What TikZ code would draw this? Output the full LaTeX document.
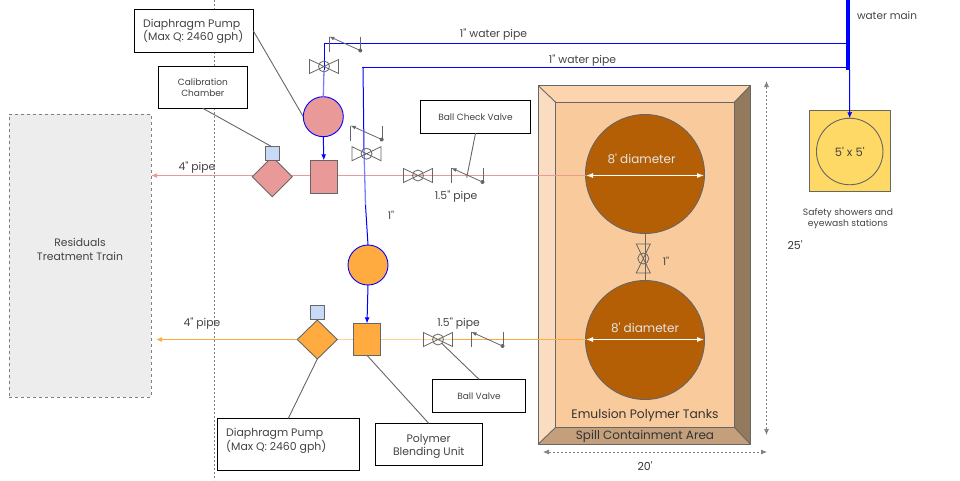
\documentclass[tikz,border=0pt]{standalone}
\usepackage{fontspec}
\usepackage{xcolor}
\usetikzlibrary{shapes.geometric, arrows.meta, positioning}
\newfontfamily\labelfont{Poppins}
\definecolor{pipeblue}{RGB}{0, 0, 255}
\definecolor{lightblue}{RGB}{120, 130, 255}
\definecolor{pumppink}{RGB}{234, 153, 153}
\definecolor{pumporange}{RGB}{255, 171, 64}
\definecolor{paleorange}{RGB}{255, 208, 143}
\definecolor{chamberblue}{RGB}{201, 218, 248}
\definecolor{tankbrown}{RGB}{180, 95, 6}
\definecolor{basinfloor}{RGB}{249, 203, 156}
\definecolor{basintop}{RGB}{252, 213, 174}
\definecolor{basinleft}{RGB}{250, 220, 192}
\definecolor{basinright}{RGB}{148, 122, 92}
\definecolor{basinbottom}{RGB}{196, 159, 124}
\definecolor{showeryellow}{RGB}{255, 217, 102}
\definecolor{linegray}{RGB}{102, 102, 102}
\definecolor{textgray}{RGB}{67, 67, 67}
\tikzset{
    txt/.style={inner sep=0pt, text=textgray, align=center, font=\labelfont\fontsize{#1}{13.5}\selectfont},
    labelbox/.style={draw=black, fill=white, line width=0.9pt, inner sep=0pt, outer sep=0pt, text=textgray, align=center},
    equip/.style={draw=linegray, line width=0.9pt, inner sep=0pt, outer sep=0pt},
    leader/.style={draw=linegray, line width=0.9pt},
    dimline/.style={draw=gray, line width=0.7pt, dash pattern=on 2pt off 2pt, {Latex[length=6pt,width=5pt]}-{Latex[length=6pt,width=5pt]}},
    ballvalve/.pic={
        \draw[linegray, line width=0.8pt] (-14.5,-7) -- (14.5,7) -- (14.5,-7) -- (-14.5,7) -- cycle;
        \draw[linegray, line width=0.8pt] (0,0) circle (5.5);
    },
    checkvalve/.pic={
        \draw[linegray, line width=0.8pt] (0,15) -- (0,0);
        \draw[linegray, line width=0.8pt, {Latex[length=5pt,width=4pt]}-] (0,0) -- (31,14);
        \draw[linegray, line width=0.8pt] (31.5,0) -- (31.5,14);
        \fill[linegray] (31,14) circle (2);
    },
}
\begin{document}
\begin{tikzpicture}[x=1pt, y=-1pt]
    \useasboundingbox (0,0) rectangle (960,480);
    % Residuals area and boundary
    \node[draw=gray, fill=black!7, dashed, line width=0.7pt, inner sep=0pt, minimum width=142pt, minimum height=283pt] (residuals) at (80,255.5) {};
    \node[txt=10.8] (residualstxt) at (80,249.5) {Residuals\\Treatment Train};
    \coordinate (boundtop) at (214.5,0);
    \coordinate (boundbot) at (214.5,480);
    \draw[gray, line width=0.7pt, dash pattern=on 2pt off 2pt] (boundtop) -- (boundbot);

    % Containment basin
    \fill[basintop] (538.3,85.7) -- (750.3,85.7) -- (734.3,102.3) -- (555.7,102.3) -- cycle;
    \fill[basinleft] (538.3,85.7) -- (555.7,102.3) -- (555.7,427.3) -- (538.3,444) -- cycle;
    \fill[basinright] (750.3,85.7) -- (734.3,102.3) -- (734.3,427.3) -- (750.3,444) -- cycle;
    \fill[basinbottom] (538.3,444) -- (555.7,427.3) -- (734.3,427.3) -- (750.3,444) -- cycle;
    \draw[linegray, line width=0.9pt, fill=basinfloor] (555.7,102.3) rectangle (734.3,427.3);
    \draw[linegray, line width=0.9pt] (538.3,85.7) rectangle (750.3,444);
    \draw[linegray, line width=0.9pt] (538.3,85.7) -- (555.7,102.3);
    \draw[linegray, line width=0.9pt] (750.3,85.7) -- (734.3,102.3);
    \draw[linegray, line width=0.9pt] (538.3,444) -- (555.7,427.3);
    \draw[linegray, line width=0.9pt] (750.3,444) -- (734.3,427.3);

    % Tanks
    \node[equip, circle, fill=tankbrown, minimum size=119pt] (tanka) at (645,174) {};
    \node[equip, circle, fill=tankbrown, minimum size=119pt] (tankb) at (645,340) {};
    \draw[linegray, line width=0.9pt] (tanka.south) -- (tankb.north);

    % Process pipes
    \coordinate (pinkstart) at (586,175.5);
    \coordinate (pinkend) at (151,175.5);
    \coordinate (orangestart) at (586,339.5);
    \coordinate (orangemid) at (452,339.5);
    \coordinate (orangepale) at (320,339.5);
    \coordinate (orangeend) at (156,339.5);
    \draw[pumppink, line width=1.1pt, -{Latex[length=6pt,width=5pt]}] (pinkstart) -- (pinkend);
    \draw[pumporange, line width=1pt] (orangestart) -- (orangemid);
    \draw[paleorange, line width=1.4pt] (orangemid) -- (orangepale);
    \draw[pumporange, line width=1pt, -{Latex[length=6pt,width=5pt]}] (orangepale) -- (orangeend);

    % Equipment, pink train
    \node[equip, circle, draw=pipeblue, fill=pumppink, minimum size=40pt] (pinkpump) at (323.3,116.7) {};
    \node[equip, rectangle, fill=pumppink, minimum width=27pt, minimum height=33pt] (pinkunit) at (323.8,176.8) {};
    \node[equip, diamond, fill=pumppink, minimum width=40pt, minimum height=40pt] (pinkdiamond) at (272.3,176.7) {};
    \node[equip, rectangle, fill=chamberblue, minimum size=14pt] (pinkchamber) at (272,153.8) {};

    % Equipment, orange train
    \node[equip, circle, draw=pipeblue, fill=pumporange, minimum size=40pt] (orangepump) at (368,265) {};
    \node[equip, rectangle, fill=pumporange, minimum width=27pt, minimum height=32pt] (orangeunit) at (367,339.3) {};
    \node[equip, diamond, fill=pumporange, minimum width=40pt, minimum height=39pt] (orangediamond) at (317.3,339.5) {};
    \node[equip, rectangle, fill=chamberblue, minimum size=14pt] (orangechamber) at (317.5,312.5) {};

    % Shower
    \node[equip, rectangle, fill=showeryellow, minimum size=81pt] (showerbox) at (849.8,150.8) {};
    \node[equip, circle, minimum size=66.5pt, txt=11.5] (shower) at (849.7,151.5) {5' x 5'};

    % Water lines
    \coordinate (maintop) at (847.5,0);
    \coordinate (mainbot) at (847.5,70);
    \coordinate (upperjoin) at (847.5,43.5);
    \coordinate (lowerjoin) at (847.5,67);
    \coordinate (uppercorner) at (324,43.5);
    \coordinate (upperbend) at (324,70);
    \coordinate (lowercorner) at (362,67);
    \coordinate (lowerdrop) at (363,67);
    \coordinate (lowerpalea) at (364,150);
    \coordinate (lowerpaleb) at (365.5,205);
    \coordinate (showerdrop) at (849.5,70);
    \draw[pipeblue, line width=1pt] (upperjoin) -- (uppercorner) -- (upperbend);
    \draw[lightblue, line width=1.3pt] (upperbend) -- (pinkpump.north);
    \draw[pipeblue, line width=1pt] (lowerjoin) -- (lowercorner);
    \draw[pipeblue, line width=1pt] (lowerdrop) -- (lowerpalea);
    \draw[lightblue, line width=1.3pt] (lowerpalea) -- (lowerpaleb);
    \draw[pipeblue, line width=1pt] (lowerpaleb) -- (orangepump.north);
    \draw[pipeblue, line width=4pt] (maintop) -- (mainbot);
    \draw[pipeblue, line width=1pt, -{Latex[length=6pt,width=5pt]}] (showerdrop) -- (shower.north);
    \draw[pipeblue, line width=1pt, -{Latex[length=6pt,width=5pt]}] (pinkpump.south) -- (pinkunit.north);
    \draw[pipeblue, line width=1pt, -{Latex[length=6pt,width=5pt]}] (orangepump.south) -- (orangeunit.north);

    % Valves
    \pic at (324,66.5) {ballvalve};
    \pic at (366.5,153.7) {ballvalve};
    \pic at (418,175.5) {ballvalve};
    \pic at (438,339.5) {ballvalve};
    \pic[rotate=90] at (643.3,258.5) {ballvalve};
    \pic at (329.3,36.5) {checkvalve};
    \pic at (350.7,125.5) {checkvalve};
    \pic at (451.5,168) {checkvalve};
    \pic at (471.5,332) {checkvalve};

    % White width arrows
    \draw[white, line width=1pt, {Latex[length=7pt,width=5pt]}-{Latex[length=7pt,width=5pt]}] (pinkstart) -- ++(118,0);
    \draw[white, line width=1pt, {Latex[length=7pt,width=5pt]}-{Latex[length=7pt,width=5pt]}] (orangestart) -- ++(118,0);

    % Labels
    \node[labelbox, minimum width=119pt, minimum height=43pt] (pumpnote) at (193.8,30.8) {};
    \node[txt=10.9, anchor=west, align=left] (pumpnotetxt) at (143,31.5) {Diaphragm Pump\\(Max Q: 2460 gph)};
    \node[labelbox, minimum width=89pt, minimum height=42pt, font=\labelfont\fontsize{9}{11}\selectfont] (chambernote) at (202.8,87.3) {Calibration\\Chamber};
    \node[labelbox, minimum width=110pt, minimum height=33pt, font=\labelfont\fontsize{9}{11}\selectfont] (checknote) at (475.5,116.8) {Ball Check Valve};
    \node[labelbox, minimum width=93pt, minimum height=33pt, font=\labelfont\fontsize{9}{11}\selectfont] (ballnote) at (479,395.8) {Ball Valve};
    \node[labelbox, minimum width=142pt, minimum height=52pt] (pumpnoteb) at (288.3,444.3) {};
    \node[txt=10.9, anchor=west, align=left] (pumpnotebtxt) at (226,440.8) {Diaphragm Pump\\(Max Q: 2460 gph)};
    \node[labelbox, minimum width=107pt, minimum height=42pt] (blendnote) at (428.7,444.3) {};
    \node[txt=10.9] (blendnotetxt) at (428.7,446.5) {Polymer\\Blending Unit};

    % Leaders
    \coordinate (checktip) at (466.7,177.7);
    \coordinate (balltip) at (441.7,343.3);
    \draw[leader] (pumpnote.east) -- (pinkpump.west);
    \draw[leader] (chambernote.south) -- (pinkchamber.north);
    \draw[leader] (checknote.south) -- (checktip);
    \draw[leader] (ballnote.north) -- (balltip);
    \draw[leader] (orangediamond.south) -- (pumpnoteb.north);
    \draw[leader] (orangeunit.south) -- (blendnote.north);

    % Dimensions
    \coordinate (dimtop) at (766.5,81);
    \coordinate (dimbot) at (766.5,435);
    \coordinate (dimleft) at (543,452);
    \coordinate (dimright) at (767,452);
    \draw[dimline] (dimtop) -- (dimbot);
    \draw[dimline] (dimleft) -- (dimright);

    % Text
    \node[txt=10.8] (waterupper) at (493.5,34.5) {1" water pipe};
    \node[txt=10.8] (waterlower) at (582.5,60.5) {1" water pipe};
    \node[txt=10.5] (watermain) at (887,16) {water main};
    \node[txt=10.8] (pipepinkfour) at (197,167.5) {4" pipe};
    \node[txt=10.8] (pipeorangefour) at (202,324) {4" pipe};
    \node[txt=10.8] (pipepinkone) at (456,196.5) {1.5" pipe};
    \node[txt=10.8] (pipeorangeone) at (458.5,324) {1.5" pipe};
    \node[txt=10.5] (dropnote) at (391,215) {1"};
    \node[txt=10.5] (tanknote) at (666,261) {1"};
    \node[txt=12, text=white!90!black] (dia) at (641.5,159) {8' diameter};
    \node[txt=12, text=white!90!black] (dib) at (645,328) {8' diameter};
    \node[txt=12.3, text=black!80] (tanktitle) at (645,415) {Emulsion Polymer Tanks};
    \node[txt=12, text=black!80] (spilltitle) at (645,436.5) {Spill Containment Area};
    \node[txt=11, text=black!80] (width) at (645,466) {20'};
    \node[txt=11, text=black!80] (height) at (795,245) {25'};
    \node[txt=9.2, font=\labelfont\fontsize{9.2}{11}\selectfont] (showercap) at (848,218.5) {Safety showers and\\eyewash stations};
\end{tikzpicture}
\end{document}
